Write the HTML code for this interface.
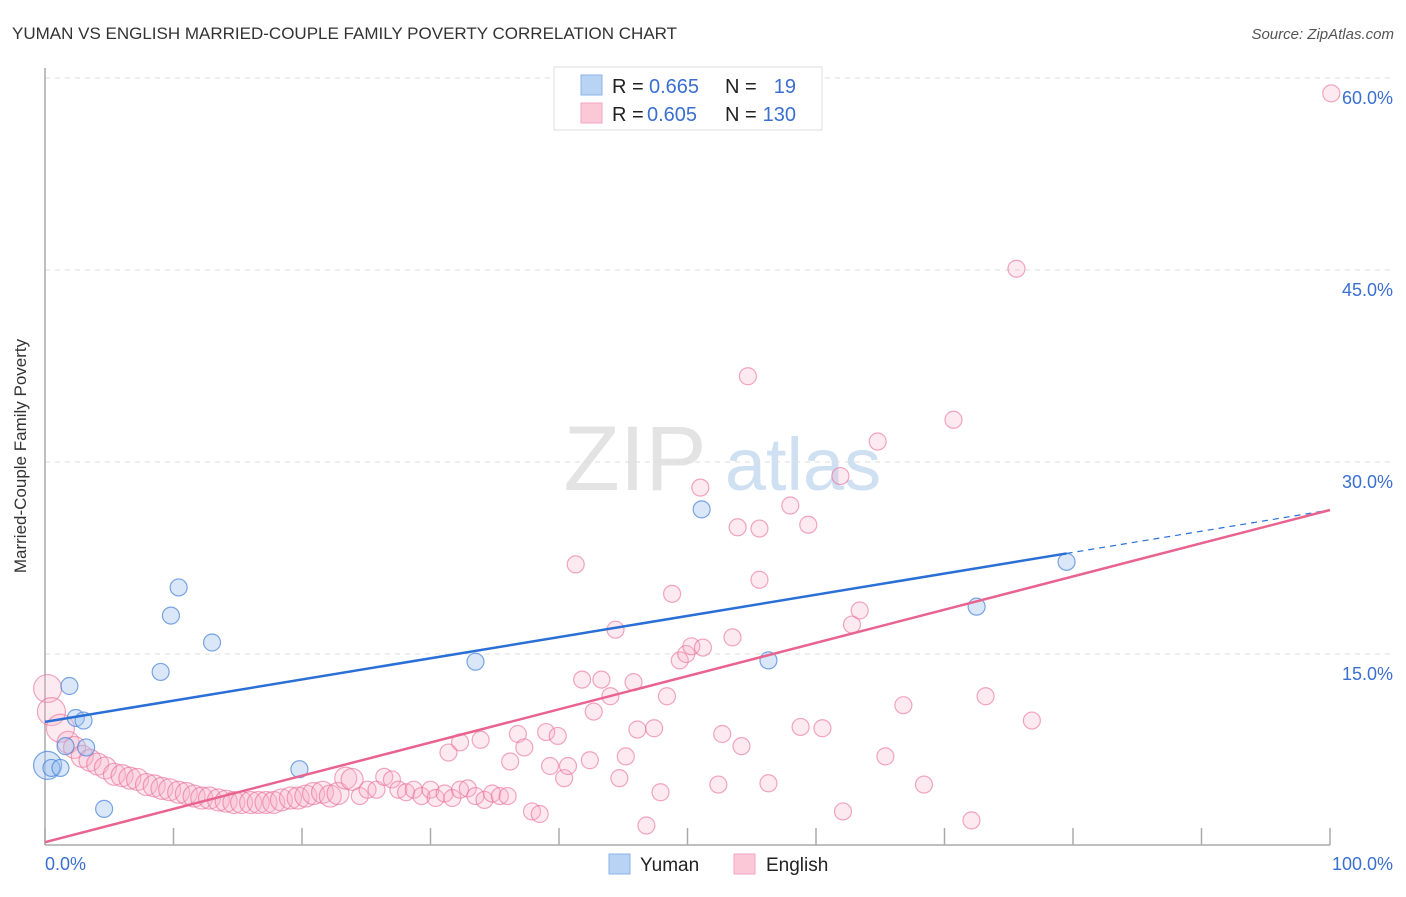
<!DOCTYPE html>
<html><head><meta charset="utf-8"><style>
body{margin:0;background:#fff;font-family:"Liberation Sans",sans-serif;}
svg text{font-family:"Liberation Sans",sans-serif;}
</style></head><body>
<svg id="chart" width="1406" height="892" xmlns="http://www.w3.org/2000/svg">
<text x="12" y="39" font-size="17" fill="#333">YUMAN VS ENGLISH MARRIED-COUPLE FAMILY POVERTY CORRELATION CHART</text>
<text x="1394" y="39" font-size="15" fill="#555" font-style="italic" text-anchor="end">Source: ZipAtlas.com</text>
<text x="26" y="456" font-size="17" fill="#333" text-anchor="middle" transform="rotate(-90 26 456)">Married-Couple Family Poverty</text>
<g>
<text x="635" y="490" font-size="92" fill="#e3e3e3" font-family="Liberation Serif" text-anchor="middle">ZIP</text>
<text x="803" y="490" font-size="74" fill="#cfe0f3" text-anchor="middle">atlas</text>
</g>
<g id="grid"></g>
<g id="axes"></g>
<g id="marks"></g>
<g>
<rect x="554" y="67" width="268" height="63" fill="#fff" stroke="#ddd"/>
<rect x="581" y="75" width="21" height="20" fill="#b8d3f3" stroke="#8ab4e8"/>
<rect x="581" y="103" width="21" height="20" fill="#fbc8d8" stroke="#f3a5bf"/>
<text x="612" y="93" font-size="20" fill="#222">R =</text><text x="649" y="93" font-size="20" fill="#3a6fd0">0.665</text>
<text x="725" y="93" font-size="20" fill="#222">N =</text><text x="796" y="93" font-size="20" fill="#3a6fd0" text-anchor="end">19</text>
<text x="612" y="121" font-size="20" fill="#222">R =</text><text x="647" y="121" font-size="20" fill="#3a6fd0">0.605</text>
<text x="725" y="121" font-size="20" fill="#222">N =</text><text x="796" y="121" font-size="20" fill="#3a6fd0" text-anchor="end">130</text>
</g>
<g>
<rect x="609" y="854" width="21" height="20" fill="#b8d3f3" stroke="#8ab4e8"/>
<text x="640" y="871" font-size="19" fill="#222">Yuman</text>
<rect x="734" y="854" width="21" height="20" fill="#fbc8d8" stroke="#f3a5bf"/>
<text x="766" y="871" font-size="19" fill="#222">English</text>
</g>
</svg>
<script>
const yTicks=[15,30,45,60];
const yTickLabels=["15.0%","30.0%","45.0%","60.0%"];
const xTicks=[0,10,20,30,40,50,60,70,80,90,100];
const xEndLabels=["0.0%","100.0%"];
const yumanX=[0.2,0.5,1.2,1.9,2.4,3.0,1.6,3.2,4.6,9.0,9.8,10.4,13.0,19.8,33.5,51.1,56.3,72.5,79.5];
const yumanY=[6.3,6.1,6.1,12.5,10.0,9.8,7.8,7.7,2.9,13.6,18.0,20.2,15.9,6.0,14.4,26.3,14.5,18.7,22.2];
const englishX=[0.2,0.5,1.2,1.8,2.3,2.9,3.5,4.1,4.7,5.4,6.0,6.6,7.2,7.9,8.5,9.1,9.7,10.4,11.0,11.6,12.2,12.8,13.5,14.1,14.7,15.3,16.0,16.6,17.2,17.8,18.4,19.1,19.7,20.3,20.9,21.6,22.2,22.8,23.4,23.9,24.5,25.1,25.8,26.4,27.0,27.5,28.1,28.7,29.3,30.0,30.4,31.1,31.7,32.3,32.9,33.5,34.2,34.8,35.4,36.0,
31.4,32.3,33.9,36.2,36.8,37.3,37.9,38.5,39.0,39.3,39.9,40.4,40.7,41.3,41.8,42.4,42.7,43.3,44.0,44.4,44.7,45.2,45.8,46.1,46.8,47.4,47.9,48.4,48.8,49.4,49.9,50.3,51.0,51.2,52.4,52.7,53.5,53.9,54.2,54.7,55.6,55.6,56.3,58.0,58.8,59.4,60.5,61.9,62.1,62.8,63.4,64.8,65.4,66.8,68.4,70.7,72.1,73.2,75.6,76.8,100.1];
const englishY=[12.3,10.5,9.2,8.1,7.7,7.0,6.7,6.4,6.1,5.6,5.5,5.3,5.2,4.8,4.7,4.5,4.4,4.2,4.1,3.9,3.75,3.75,3.6,3.5,3.4,3.4,3.4,3.4,3.4,3.4,3.6,3.75,3.75,3.9,4.1,4.2,3.9,4.1,5.3,5.2,3.9,4.4,4.4,5.4,5.2,4.4,4.2,4.4,3.9,4.4,3.75,4.1,3.75,4.4,4.5,3.9,3.6,4.1,3.9,3.9,
7.3,8.1,8.3,6.6,8.75,7.7,2.7,2.5,8.9,6.25,8.6,5.3,6.25,22.0,13.0,6.7,10.5,13.0,11.7,16.9,5.3,7.0,12.8,9.1,1.6,9.2,4.2,11.7,19.7,14.5,15.0,15.6,28.0,15.5,4.8,8.75,16.3,24.9,7.8,36.7,24.8,20.8,4.9,26.6,9.3,25.1,9.2,28.9,2.7,17.3,18.4,31.6,7.0,11.0,4.8,33.3,2.0,11.7,45.1,9.8,58.8];
const yumanTrend=[9.7,26.25];
const englishTrend=[0.3,26.25];
const yumanSolidEnd=79.5;

const NS="http://www.w3.org/2000/svg";
const X=v=>45+v*12.85;
const Y=v=>846-v*12.8;
function mk(tag,attrs,parent){const e=document.createElementNS(NS,tag);for(const k in attrs)e.setAttribute(k,attrs[k]);parent.appendChild(e);return e;}
const grid=document.getElementById('grid'),axes=document.getElementById('axes'),marks=document.getElementById('marks');
yTicks.forEach((t,i)=>{
  const l=mk('line',{x1:45,x2:1394,y1:Y(t),y2:Y(t),stroke:'#ddd','stroke-dasharray':'5,5'},grid);
  
  
  const tx=mk('text',{x:1393,y:Y(t)+26,'font-size':18,fill:'#3a6fd0','text-anchor':'end'},axes);
  tx.textContent=yTickLabels[i];
  
  
});
const ya=mk('line',{x1:45,x2:45,y1:68,y2:845,stroke:'#aaa','stroke-width':1.5},axes);


const xa=mk('line',{x1:45,x2:1330,y1:845,y2:845,stroke:'#aaa','stroke-width':1.5},axes);


xTicks.forEach(t=>{
  const l=mk('line',{x1:X(t),x2:X(t),y1:828,y2:845,stroke:'#aaa','stroke-width':1.5},axes);
  
  
});
[[0,'start',45],[1,'end',1393]].forEach(([i,a,x])=>{
  const t=mk('text',{x:x,y:870,'font-size':18,fill:'#3a6fd0','text-anchor':a},axes);
  t.textContent=xEndLabels[i];
  
  
});
englishX.forEach((x,i)=>{
  const r=x<3&&englishY[i]>9?14:(x<24?11:8.5);
  const c=mk('circle',{cx:X(x),cy:Y(englishY[i]),r:r,fill:'rgba(248,175,200,0.28)',stroke:'rgba(232,110,150,0.6)','stroke-width':1.2},marks);
  
  
});
yumanX.forEach((x,i)=>{
  const r=i===0?14:8.5;
  const c=mk('circle',{cx:X(x),cy:Y(yumanY[i]),r:r,fill:'rgba(160,196,240,0.4)',stroke:'rgba(70,130,215,0.7)','stroke-width':1.2},marks);
  
  
});
const yv=x=>yumanTrend[0]+(yumanTrend[1]-yumanTrend[0])*x/100;
const t1=mk('line',{x1:X(0),y1:Y(yv(0)),x2:X(yumanSolidEnd),y2:Y(yv(yumanSolidEnd)),stroke:'#2a6fd6','stroke-width':2.5},marks);


const t2=mk('line',{x1:X(yumanSolidEnd),y1:Y(yv(yumanSolidEnd)),x2:X(100),y2:Y(yv(100)),stroke:'#2a6fd6','stroke-width':1.2,'stroke-dasharray':'6,5'},marks);


const t3=mk('line',{x1:X(0),y1:Y(englishTrend[0]),x2:X(100),y2:Y(englishTrend[1]),stroke:'#e8648e','stroke-width':2.5},marks);


</script>
</body></html>
